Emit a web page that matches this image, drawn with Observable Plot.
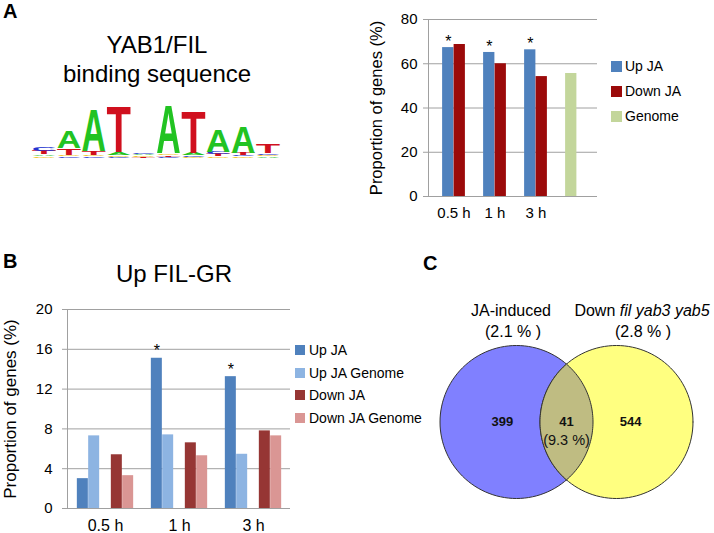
<!DOCTYPE html>
<html><head><meta charset="utf-8">
<script src="https://cdn.jsdelivr.net/npm/d3@7"></script>
<script src="https://cdn.jsdelivr.net/npm/@observablehq/plot@0.6"></script>
<style>
body{margin:0;background:#fff;}
#root{position:relative;width:714px;height:533px;overflow:hidden;font-family:"Liberation Sans",Arial,sans-serif;color:#000;}
.legend{position:absolute;font-size:14px;}
.legend .row{display:flex;align-items:center;white-space:nowrap;}
.legend .sw{display:inline-block;}
</style></head><body><div id="root"></div>
<script>
// ---------------- DATA ----------------
// Panel A (motif presence)
const timesA = ["0.5 h", "1 h", "3 h"];
const upA = [67.3, 65.1, 66.3];
const downA = [68.7, 60.0, 54.2];
const genomeA = 55.6;
const sigA = [true, true, true];
const seriesA = ["Up JA", "Down JA", "Genome"];
const colorsA = ["#4f81bd", "#9b0a0a", "#c3d69b"];
const yTicksA = [0, 20, 40, 60, 80];

// Panel B (Up FIL-GR)
const timesB = ["0.5 h", "1 h", "3 h"];
const upJA_B = [3.0, 15.1, 13.25];
const upJAGenome_B = [7.3, 7.4, 5.45];
const downJA_B = [5.4, 6.6, 7.8];
const downJAGenome_B = [3.3, 5.3, 7.3];
const sigB = [false, true, true];
const seriesB = ["Up JA", "Up JA Genome", "Down JA", "Down JA Genome"];
const colorsB = ["#4f81bd", "#8db4e2", "#963634", "#da9694"];
const yTicksB = [0, 4, 8, 12, 16, 20];

// Panel C (Venn)
const vennSets = ["JA-induced", "Down fil yab3 yab5"];
const vennSetPct = ["(2.1 % )", "(2.8 % )"];
const vennCounts = [399, 41, 544];
const vennOverlapPct = "(9.3 %)";
const vennColors = ["#8080ff", "#ffff80", "#bfbc82"];

// Sequence logo (YAB1/FIL binding sequence), bits per letter, bottom -> top
const logoStacks = [
  [["G", 0.05], ["A", 0.06], ["T", 0.12], ["C", 0.15]],
  [["C", 0.05], ["G", 0.05], ["T", 0.22], ["A", 0.6]],
  [["C", 0.05], ["G", 0.05], ["T", 0.14], ["A", 1.48]],
  [["C", 0.03], ["G", 0.05], ["A", 0.1], ["T", 1.62]],
  [["T", 0.03], ["G", 0.04], ["A", 0.05], ["C", 0.06]],
  [["C", 0.03], ["T", 0.05], ["G", 0.06], ["A", 1.69]],
  [["G", 0.03], ["C", 0.04], ["A", 0.1], ["T", 1.48]],
  [["G", 0.04], ["T", 0.08], ["C", 0.08], ["A", 0.76]],
  [["G", 0.04], ["C", 0.05], ["T", 0.08], ["A", 0.9]],
  [["A", 0.04], ["G", 0.04], ["C", 0.06], ["T", 0.3]]
];
const logoColors = {A: "#22c322", T: "#d0101e", C: "#2233d0", G: "#f2bd00"};

// ---------------- LAYOUT ----------------
const root = document.getElementById("root");
const FONT = "'Liberation Sans', Arial, sans-serif";
const GRID = "#a0a0a0";
function place(el, left, top) {
  el.style.position = "absolute";
  el.style.left = left + "px";
  el.style.top = top + "px";
  root.appendChild(el);
  return el;
}
const baseStyle = {fontFamily: FONT, fontSize: "15px", background: "transparent", overflow: "visible", color: "#000"};

// ---------------- LOGO ----------------
const logoLetters = [];
logoStacks.forEach((col, i) => {
  let acc = 0;
  col.forEach(([letter, bits]) => {
    logoLetters.push({pos: i + 1, letter, y0: acc, y1: acc + bits});
    acc += bits;
  });
});
const logo = Plot.plot({
  width: 310, height: 75,
  marginLeft: 31, marginRight: 30, marginTop: 9, marginBottom: 8,
  x: {domain: [0.5, logoStacks.length + 0.5], axis: null},
  y: {domain: [0, 2], axis: null},
  style: baseStyle,
  marks: [
    Plot.text(logoLetters, {x: "pos", y: "y0", text: "letter", fill: d => logoColors[d.letter], fontSize: 100, fontWeight: "bold"})
  ]
});
place(logo, 0, 90);
{
  const xs = logo.scale("x"), ys = logo.scale("y");
  const colW = xs.apply(1.5) - xs.apply(0.5);
  logo.querySelectorAll('g[aria-label="text"] text').forEach((t, i) => {
    const d = logoLetters[i];
    if (!d) return;
    t.removeAttribute("x"); t.removeAttribute("y"); t.removeAttribute("dy");
    t.removeAttribute("transform");
    t.setAttribute("text-anchor", "middle");
    const bb = t.getBBox();
    const px = xs.apply(d.pos), p0 = ys.apply(d.y0), p1 = ys.apply(d.y1);
    const sx = colW * 0.98 / bb.width, sy = (p0 - p1) / 71.6;
    t.setAttribute("transform", `translate(${px},${p0}) scale(${sx},${sy})`);
  });
}

// ---------------- PANEL A CHART ----------------
{
  const W = 354, H = 232, mL = 68, mR = 117, mT = 19, mB = 36;
  const padOuter = 0.05;
  const domainX = [...timesA, "Genome"];
  const step = (W - mL - mR) / (domainX.length + 2 * padOuter);
  const barW = 11.5;
  const rows0 = [
    ...timesA.map((t, i) => ({x: t, series: "Up JA", value: upA[i], sig: sigA[i]})),
    {x: "Genome", series: "Genome", value: genomeA, sig: false}
  ];
  const rows1 = timesA.map((t, i) => ({x: t, series: "Down JA", value: downA[i]}));
  const chart = Plot.plot({
    width: W, height: H, marginLeft: mL, marginRight: mR, marginTop: mT, marginBottom: mB,
    x: {domain: domainX, paddingInner: 0, paddingOuter: padOuter, align: 1},
    y: {domain: [0, 80]},
    color: {domain: seriesA, range: colorsA},
    style: baseStyle,
    marks: [
      Plot.gridY(yTicksA, {stroke: GRID, strokeOpacity: 1}),
      Plot.barY(rows0, {x: "x", y: "value", fill: "series", insetLeft: step / 2 - barW, insetRight: step / 2}),
      Plot.barY(rows1, {x: "x", y: "value", fill: "series", insetLeft: step / 2, insetRight: step / 2 - barW}),
      Plot.text(rows0.filter(d => d.sig), {x: "x", y: "value", text: () => "*", dx: -barW / 2, dy: -6, fontSize: 16}),
      Plot.frame({anchor: "left", stroke: GRID}),
      Plot.axisY({ticks: yTicksA, tickSize: 5, tickPadding: 6, stroke: GRID, fill: "#000", fontSize: 15, label: null}),
      Plot.axisY({ticks: [], label: "Proportion of genes (%)", labelAnchor: "center", labelOffset: 58, labelArrow: "none", fontSize: 16.5}),
      Plot.axisX({tickSize: 0, tickPadding: 11, fontSize: 15, label: null, tickFormat: d => timesA.includes(d) ? d : ""})
    ]
  });
  place(chart, 360, 0);
}

// ---------------- PANEL B CHART ----------------
{
  const W = 420, H = 243, mL = 67, mR = 130, mT = 19, mB = 25;
  const step = (W - mL - mR) / timesB.length;
  const barW = 11.33;
  const slotOffset = (step - 5 * barW) / 2;
  const slots = [0, 1, 3, 4];
  const values = [upJA_B, upJAGenome_B, downJA_B, downJAGenome_B];
  const marks = [Plot.gridY(yTicksB, {stroke: GRID, strokeOpacity: 1})];
  seriesB.forEach((s, k) => {
    const rows = timesB.map((t, i) => ({x: t, series: s, value: values[k][i], sig: sigB[i]}));
    const inL = slotOffset + slots[k] * barW;
    marks.push(Plot.barY(rows, {x: "x", y: "value", fill: "series", insetLeft: inL, insetRight: step - inL - barW}));
    if (k === 0) {
      marks.push(Plot.text(rows.filter(d => d.sig), {x: "x", y: "value", text: () => "*", dx: -step / 2 + slotOffset + barW / 2, dy: -7, fontSize: 16}));
    }
  });
  marks.push(
    Plot.frame({anchor: "left", stroke: GRID}),
    Plot.axisY({ticks: yTicksB, tickSize: 5, tickPadding: 10, stroke: GRID, fill: "#000", fontSize: 15, label: null}),
    Plot.axisY({ticks: [], label: "Proportion of genes (%)", labelAnchor: "center", labelOffset: 64, labelArrow: "none", fontSize: 17}),
    Plot.axisX({tickSize: 0, tickPadding: 11, fontSize: 16, label: null})
  );
  const chart = Plot.plot({
    width: W, height: H, marginLeft: mL, marginRight: mR, marginTop: mT, marginBottom: mB,
    x: {domain: timesB, padding: 0},
    y: {domain: [0, 20]},
    color: {domain: seriesB, range: colorsB},
    style: baseStyle,
    marks
  });
  place(chart, 0, 290);
}

// ---------------- PANEL C VENN ----------------
{
  const W = 294, H = 243;
  const R = 76.5;             // circle radius in px
  const cx = 146, cy = 131.5; // centre of the pair in px
  const halfDist = 50 / R;    // half distance between centres, in radii
  const circle = (c, id) => d3.range(0, 361, 3).map(a => ({id, x: c + Math.cos(a * Math.PI / 180), y: Math.sin(a * Math.PI / 180)}));
  const theta = Math.acos(halfDist);
  const lens = [
    ...d3.range(-theta, theta + 1e-9, theta / 30).map(t => ({x: -halfDist + Math.cos(t), y: Math.sin(t)})),
    ...d3.range(Math.PI - theta, Math.PI + theta + 1e-9, theta / 30).map(t => ({x: halfDist + Math.cos(t), y: Math.sin(t)}))
  ];
  const onlyOff = 0.185;
  const labels = [
    {x: -halfDist - onlyOff, y: 0, text: String(vennCounts[0]), bold: true},
    {x: 0, y: 0, text: String(vennCounts[1]), bold: true},
    {x: halfDist + onlyOff, y: 0, text: String(vennCounts[2]), bold: true},
  ];
  const pctLabel = [{x: 0, y: -0.24, text: vennOverlapPct}];
  const venn = Plot.plot({
    width: W, height: H, margin: 0,
    x: {domain: [-cx / R, (W - cx) / R], axis: null},
    y: {domain: [-(H - cy) / R, cy / R], axis: null},
    style: baseStyle,
    marks: [
      Plot.line(circle(-halfDist, 0), {x: "x", y: "y", fill: vennColors[0], stroke: "#333", strokeWidth: 1}),
      Plot.line(circle(halfDist, 1), {x: "x", y: "y", fill: vennColors[1], stroke: "#333", strokeWidth: 1}),
      Plot.line(lens, {x: "x", y: "y", fill: vennColors[2], stroke: "#333", strokeWidth: 1}),
      Plot.text(labels, {x: "x", y: "y", text: "text", fontWeight: "bold", fontSize: 13, fill: "#111"}),
      Plot.text(pctLabel, {x: "x", y: "y", text: "text", fontSize: 14.5, fill: "#111"})
    ]
  });
  place(venn, 420, 290);
}

// ---------------- LEGENDS ----------------
function legend(names, colors, left, top, rowH, sw, gap) {
  const div = document.createElement("div");
  div.className = "legend";
  names.forEach((n, i) => {
    const row = document.createElement("div");
    row.className = "row";
    row.style.height = rowH + "px";
    const s = document.createElement("span");
    s.className = "sw";
    s.style.width = sw + "px"; s.style.height = sw + "px";
    s.style.background = colors[i];
    s.style.marginRight = gap + "px";
    row.appendChild(s);
    row.appendChild(document.createTextNode(n));
    div.appendChild(row);
  });
  return place(div, left, top);
}
legend(seriesA, colorsA, 611, 53.5, 25, 11, 3);
legend(seriesB, colorsB, 295, 338.6, 22.7, 10, 4);

// ---------------- TITLES / PANEL LETTERS ----------------
const ns = "http://www.w3.org/2000/svg";
const over = document.createElementNS(ns, "svg");
over.setAttribute("width", 714); over.setAttribute("height", 533);
over.style.fontFamily = FONT;
over.style.pointerEvents = "none";
function txt(str, x, y, size, opts = {}) {
  const t = document.createElementNS(ns, "text");
  t.setAttribute("x", x); t.setAttribute("y", y);
  t.setAttribute("font-size", size);
  if (opts.bold) t.setAttribute("font-weight", "bold");
  t.setAttribute("text-anchor", opts.anchor || "start");
  if (Array.isArray(str)) {
    str.forEach(([s, it]) => {
      const ts = document.createElementNS(ns, "tspan");
      ts.textContent = s;
      if (it) ts.setAttribute("font-style", "italic");
      t.appendChild(ts);
    });
  } else t.textContent = str;
  over.appendChild(t);
}
txt("A", 3, 18, 20, {bold: true});
txt("YAB1/FIL", 157, 53, 24, {anchor: "middle"});
txt("binding sequence", 157, 82, 24, {anchor: "middle"});
txt("B", 3, 268, 20, {bold: true});
txt("Up FIL-GR", 174, 282, 24, {anchor: "middle"});
txt("C", 423, 270, 20, {bold: true});
txt(vennSets[0], 511, 316, 16, {anchor: "middle"});
txt(vennSetPct[0], 513, 337, 16, {anchor: "middle"});
const [w0, ...rest] = vennSets[1].split(" ");
txt([[w0 + " ", false], [rest.join(" "), true]], 642, 316, 16, {anchor: "middle"});
txt(vennSetPct[1], 643, 337, 16, {anchor: "middle"});
place(over, 0, 0);
</script></body></html>
